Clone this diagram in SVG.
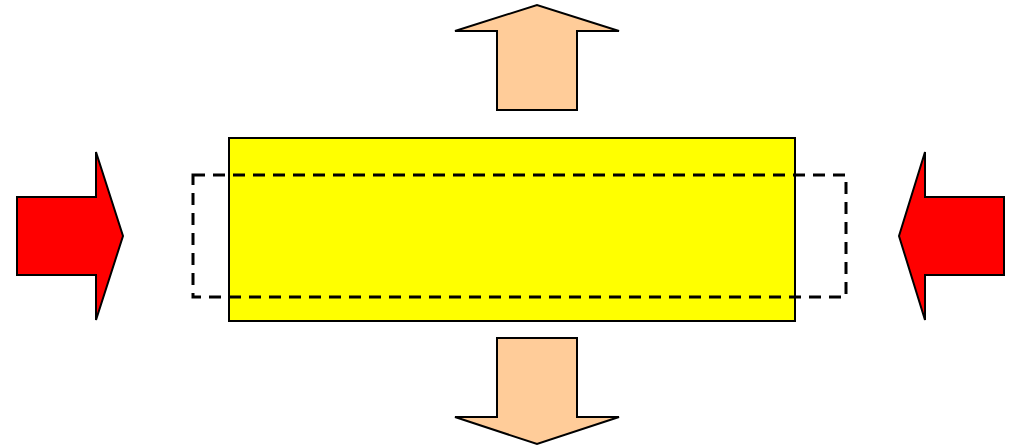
<svg xmlns="http://www.w3.org/2000/svg" width="1010" height="448" viewBox="0 0 1010 448">
  <style>
    .block { fill: #ffff00; stroke: #000; stroke-width: 2; }
    .outline { fill: none; stroke: #000; stroke-width: 3; stroke-dasharray: 12 8; }
    .push { fill: #ff0000; stroke: #000; stroke-width: 2; stroke-linejoin: miter; }
    .flow { fill: #ffcc99; stroke: #000; stroke-width: 2; stroke-linejoin: miter; }
  </style>
  <rect width="1010" height="448" fill="#ffffff"/>

  <g id="block">
    <rect class="block" x="229" y="138" width="566" height="183"/>
  </g>

  <g id="original-outline">
    <rect class="outline" x="193" y="175" width="653" height="122"/>
  </g>

  <g id="connectors">
    <g id="arrow-left-in">
      <polygon class="push" points="17,197 96,197 96,152 123,236 96,320 96,275 17,275"/>
    </g>
    <g id="arrow-right-in">
      <polygon class="push" points="1004,197 925,197 925,152 899,236 925,320 925,275 1004,275"/>
    </g>
    <g id="arrow-up-out">
      <polygon class="flow" points="497,110 497,31 455,31 537,5 619,31 577,31 577,110"/>
    </g>
    <g id="arrow-down-out">
      <polygon class="flow" points="497,338 577,338 577,417 619,417 537,444 455,417 497,417"/>
    </g>
  </g>
</svg>
